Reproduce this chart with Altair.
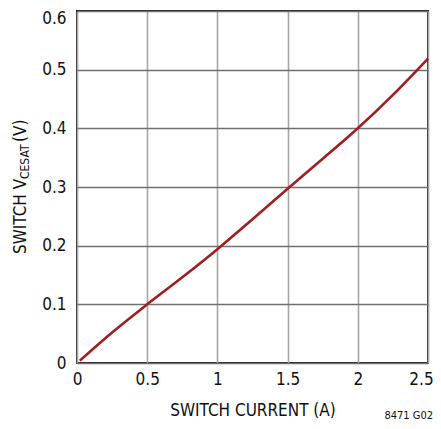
import altair as alt
import pandas as pd

current = [0.02, 0.25, 0.5, 0.75, 1.0, 1.25, 1.5, 1.75, 2.0, 2.25, 2.5]
vcesat = [0.004, 0.052, 0.100, 0.146, 0.194, 0.245, 0.297, 0.348, 0.400, 0.457, 0.519]
x_ticks = [0, 0.5, 1, 1.5, 2, 2.5]
y_ticks = [0, 0.1, 0.2, 0.3, 0.4, 0.5, 0.6]

FONT = "Liberation Sans Narrow, DejaVu Sans Condensed, sans-serif"

df = pd.DataFrame({"I": current, "V": vcesat})

xs = alt.Scale(domain=[0, 2.5], nice=False, zero=False)
ys = alt.Scale(domain=[0, 0.6], nice=False, zero=False)

line = alt.Chart(df).mark_line(color="#a21d1f", strokeWidth=2.6, interpolate="monotone").encode(
    x=alt.X("I:Q", scale=xs,
            axis=alt.Axis(values=x_ticks, title="SWITCH CURRENT (A)", grid=True,
                          gridColor="#a6a6a6", gridWidth=1.6, domain=False, ticks=False,
                          labelFontSize=17, labelPadding=8, labelColor="#111",
                          labelFont=FONT, titleFont=FONT, titleFontSize=17,
                          titleFontWeight="normal", titleColor="#111", titlePadding=15,
                          labelFlush=False, labelOverlap=False,
                          labelOffset={"condition": {"test": "datum.value >= 2.5", "value": -7}, "value": 0},
                          labelExpr="datum.value == 0 ? '0' : format(datum.value, '.1~f')")),
    y=alt.Y("V:Q", scale=ys,
            axis=alt.Axis(values=y_ticks, title=None, grid=True,
                          gridColor="#707070", gridWidth=1.6, domain=False, ticks=False,
                          labelFontSize=17, labelPadding=11, labelColor="#111",
                          labelFont=FONT, labelFlush=False, labelOverlap=False,
                          labelOffset={"condition": {"test": "datum.value >= 0.6", "value": 7}, "value": 0},
                          labelExpr="datum.value == 0 ? '0' : format(datum.value, '.1f')")),
)

t1 = alt.Chart(pd.DataFrame({"t": ["SWITCH V"]})).mark_text(
    angle=270, align="left", baseline="alphabetic", font=FONT, fontSize=17, color="#111"
).encode(text="t:N", x=alt.value(-51), y=alt.value(243))
t2 = alt.Chart(pd.DataFrame({"t": ["CESAT"]})).mark_text(
    angle=270, align="left", baseline="alphabetic", font=FONT, fontSize=12, color="#111"
).encode(text="t:N", x=alt.value(-48.5), y=alt.value(168))
t3 = alt.Chart(pd.DataFrame({"t": ["(V)"]})).mark_text(
    angle=270, align="left", baseline="alphabetic", font=FONT, fontSize=17, color="#111"
).encode(text="t:N", x=alt.value(-51), y=alt.value(131))
note = alt.Chart(pd.DataFrame({"t": ["8471 G02"]})).mark_text(
    align="right", baseline="alphabetic", font=FONT, fontSize=11, color="#111"
).encode(text="t:N", x=alt.value(356), y=alt.value(408))

chart = alt.layer(line, t1, t2, t3, note).properties(
    width=351, height=352,
    autosize=alt.AutoSizeParams(type="none"),
    padding={"left": 69, "top": 3, "right": 5, "bottom": 58},
).configure_view(stroke="#222", strokeWidth=2)

chart.save("out.html", embed_options={"renderer": "svg", "actions": False})
